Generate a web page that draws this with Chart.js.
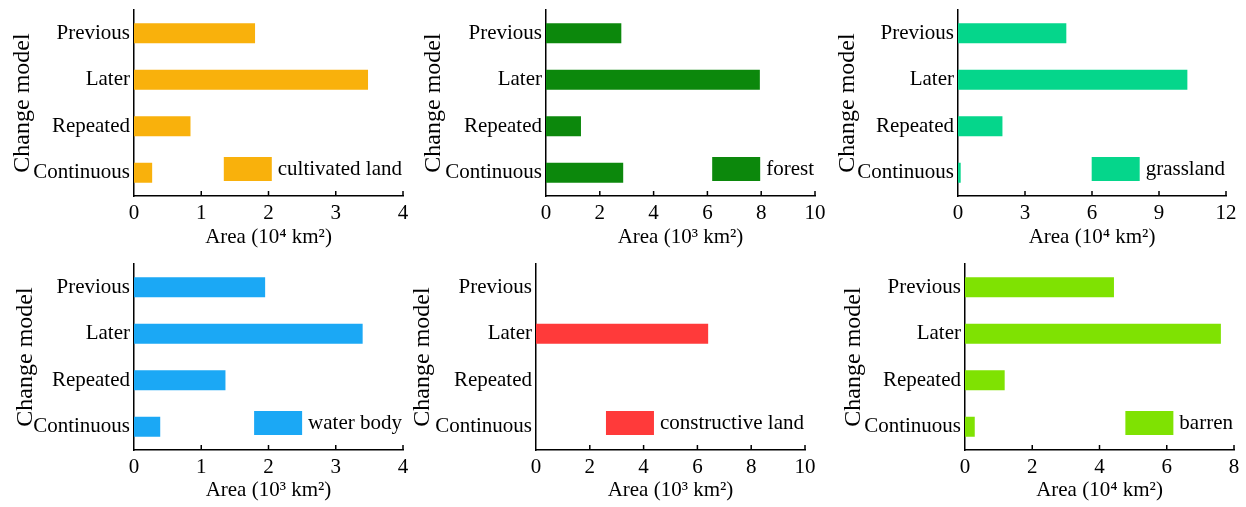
<!DOCTYPE html>
<html>
<head>
<meta charset="utf-8">
<title>Change model area by land type</title>
<script src="https://cdn.jsdelivr.net/npm/chart.js@4.4.1/dist/chart.umd.min.js"></script>
<style>
    html, body { margin: 0; padding: 0; background: #fff; }
    body { width: 1246px; height: 507px; position: relative; overflow: hidden; }
    canvas { position: absolute; }
</style>
</head>
<body>
<canvas id="c1"></canvas>
<canvas id="c2"></canvas>
<canvas id="c3"></canvas>
<canvas id="c4"></canvas>
<canvas id="c5"></canvas>
<canvas id="c6"></canvas>
<script>
// categories, top to bottom
const categories = ["Previous", "Later", "Repeated", "Continuous"];

// series values
const cultivatedLand = [1.8, 3.48, 0.84, 0.27];   // 10^4 km2
const forest = [2.8, 7.95, 1.3, 2.87];            // 10^3 km2
const grassland = [4.85, 10.27, 1.99, 0.12];      // 10^4 km2
const waterBody = [1.95, 3.4, 1.36, 0.39];        // 10^3 km2
const constructiveLand = [0, 6.4, 0, 0];          // 10^3 km2
const barren = [4.43, 7.61, 1.18, 0.29];          // 10^4 km2

// axis ticks
const seriesNames = ["cultivated land", "forest", "grassland", "water body", "constructive land", "barren"];
const axisMax = [4, 10, 12, 4, 10, 8];
const axisStep = [1, 2, 3, 1, 2, 2];
const axisTitles = ["Area (10⁴ km²)", "Area (10³ km²)", "Area (10⁴ km²)", "Area (10³ km²)", "Area (10³ km²)", "Area (10⁴ km²)"];
const yTitle = "Change model";

(function () {
    "use strict";

    if (typeof Chart === "undefined") {
        return;
    }

    const SERIF = "'Liberation Serif', 'Times New Roman', serif";
    Chart.defaults.font.family = SERIF;
    Chart.defaults.font.size = 21;
    Chart.defaults.color = "#000";

    const seriesData = [cultivatedLand, forest, grassland, waterBody, constructiveLand, barren];
    const colors = ["#F9B10C", "#0C880C", "#05D68B", "#1BA8F5", "#FF3A3A", "#7FE202"];

    // where each small chart sits on the page
    const panels = [
        { id: "c1", left: 0, top: 0, width: 415, height: 250, yWidth: 134, xHeight: 54, padTop: 10, padRight: 12 },
        { id: "c2", left: 411, top: 0, width: 417, height: 250, yWidth: 135, xHeight: 54, padTop: 10, padRight: 13 },
        { id: "c3", left: 825, top: 0, width: 421, height: 250, yWidth: 133, xHeight: 54, padTop: 10, padRight: 20 },
        { id: "c4", left: 3, top: 255, width: 412, height: 248, yWidth: 131, xHeight: 53, padTop: 9, padRight: 12 },
        { id: "c5", left: 400, top: 255, width: 420, height: 248, yWidth: 136, xHeight: 53, padTop: 9, padRight: 15 },
        { id: "c6", left: 831, top: 255, width: 415, height: 248, yWidth: 134, xHeight: 53, padTop: 9, padRight: 12 },
    ];

    /**
     * Short tick marks pointing into the plot, on the x axis
     */
    const insideTicks = {
        id: "insideTicks",
        afterDraw: function (chart) {
            const x = chart.scales.x;
            const area = chart.chartArea;
            const ctx = chart.ctx;
            ctx.save();
            ctx.strokeStyle = "#000";
            ctx.lineWidth = 1.5;
            x.ticks.forEach(function (t, i) {
                if (i === 0) return;
                const px = x.getPixelForTick(i);
                ctx.beginPath();
                ctx.moveTo(px, area.bottom);
                ctx.lineTo(px, area.bottom - 5);
                ctx.stroke();
            });
            ctx.restore();
        },
    };

    /**
     * Legend drawn inside the plot, lower right corner
     */
    const boxLegend = {
        id: "boxLegend",
        afterDatasetsDraw: function (chart) {
            const ds = chart.data.datasets[0];
            const area = chart.chartArea;
            const ctx = chart.ctx;
            const right = area.right - 1;
            const cy = area.bottom - 27;
            ctx.save();
            ctx.font = "21px " + SERIF;
            ctx.textAlign = "right";
            ctx.textBaseline = "middle";
            ctx.fillStyle = "#000";
            const w = ctx.measureText(ds.label).width;
            ctx.fillText(ds.label, right, cy);
            ctx.fillStyle = ds.backgroundColor;
            ctx.fillRect(right - w - 6 - 48, cy - 12, 48, 24);
            ctx.restore();
        },
    };

    function makeChart(p, i) {
        const canvas = document.getElementById(p.id);
        canvas.width = p.width;
        canvas.height = p.height;
        canvas.style.left = p.left + "px";
        canvas.style.top = p.top + "px";

        return new Chart(canvas.getContext("2d"), {
            type: "bar",
            data: {
                labels: categories,
                datasets: [
                    {
                        label: seriesNames[i],
                        data: seriesData[i],
                        backgroundColor: colors[i],
                        borderWidth: 0,
                        categoryPercentage: 1,
                        barPercentage: 0.43,
                    },
                ],
            },
            options: {
                indexAxis: "y",
                responsive: false,
                animation: false,
                layout: { padding: { top: p.padTop, right: p.padRight, left: 0, bottom: 0 } },
                plugins: {
                    legend: { display: false },
                    tooltip: { enabled: false },
                },
                scales: {
                    x: {
                        min: 0,
                        max: axisMax[i],
                        ticks: { stepSize: axisStep[i], padding: 5, maxRotation: 0 },
                        grid: { display: false, drawTicks: false },
                        border: { display: true, color: "#000", width: 1.5 },
                        title: {
                            display: true,
                            text: axisTitles[i],
                            font: { size: 21 },
                            padding: { top: 0, bottom: 0 },
                        },
                        afterFit: function (s) {
                            s.height = p.xHeight;
                            s.paddingLeft = 0;
                            s.paddingRight = 0;
                        },
                    },
                    y: {
                        ticks: { padding: 4 },
                        grid: { display: false, drawTicks: false },
                        border: { display: true, color: "#000", width: 1.5 },
                        title: {
                            display: true,
                            text: yTitle,
                            font: { size: 24 },
                            padding: { top: 8, bottom: 0 },
                        },
                        afterFit: function (s) {
                            s.width = p.yWidth;
                            s.paddingTop = 0;
                            s.paddingBottom = 0;
                        },
                    },
                },
            },
            plugins: [insideTicks, boxLegend],
        });
    }

    panels.forEach(makeChart);
})();
</script>
</body>
</html>
